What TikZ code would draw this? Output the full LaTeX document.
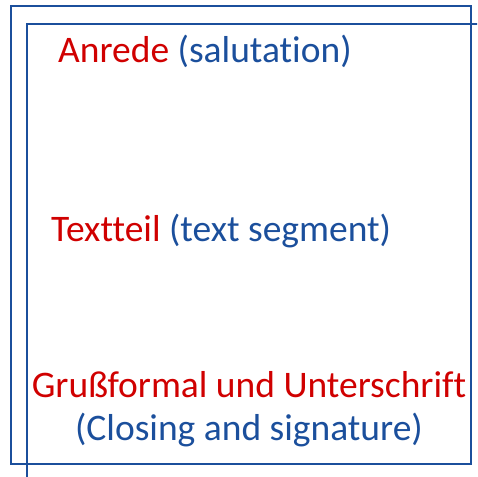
\documentclass[tikz,border=0pt]{standalone}
\usepackage{fontspec}
\setmainfont[Ligatures=NoCommon]{Carlito}
\usepackage{xcolor}
\definecolor{accentred}{HTML}{D00000}
\definecolor{accentblue}{HTML}{1B4F9C}

\begin{document}
\begin{tikzpicture}[x=1bp,y=-1bp]
        \useasboundingbox (0,0) rectangle (477,477);
        \clip (0,0) rectangle (477,477);
        \draw[accentblue, line width=1.6bp] (11,6) rectangle (471,464);
        \draw[accentblue, line width=1.6bp] (27,24) rectangle (490,490);
        \node[anchor=base west,inner sep=0pt,font=\fontsize{37.5bp}{43bp}\selectfont] (anrede) at (58,63) {
            \textcolor{accentred}{Anrede} \textcolor{accentblue}{(salutation)}
        };
        \node[anchor=base west,inner sep=0pt,font=\fontsize{37.5bp}{43bp}\selectfont] (textteil) at (51,241) {
            \textcolor{accentred}{Textteil} \textcolor{accentblue}{(text segment)}
        };
        \node[anchor=base,inner sep=0pt,align=center,font=\fontsize{37.5bp}{43bp}\selectfont] (gruss) at (249,440) {
            \textcolor{accentred}{Grußformal und Unterschrift}\\
            \textcolor{accentblue}{(Closing and signature)}
        };
    \end{tikzpicture}
\end{document}
